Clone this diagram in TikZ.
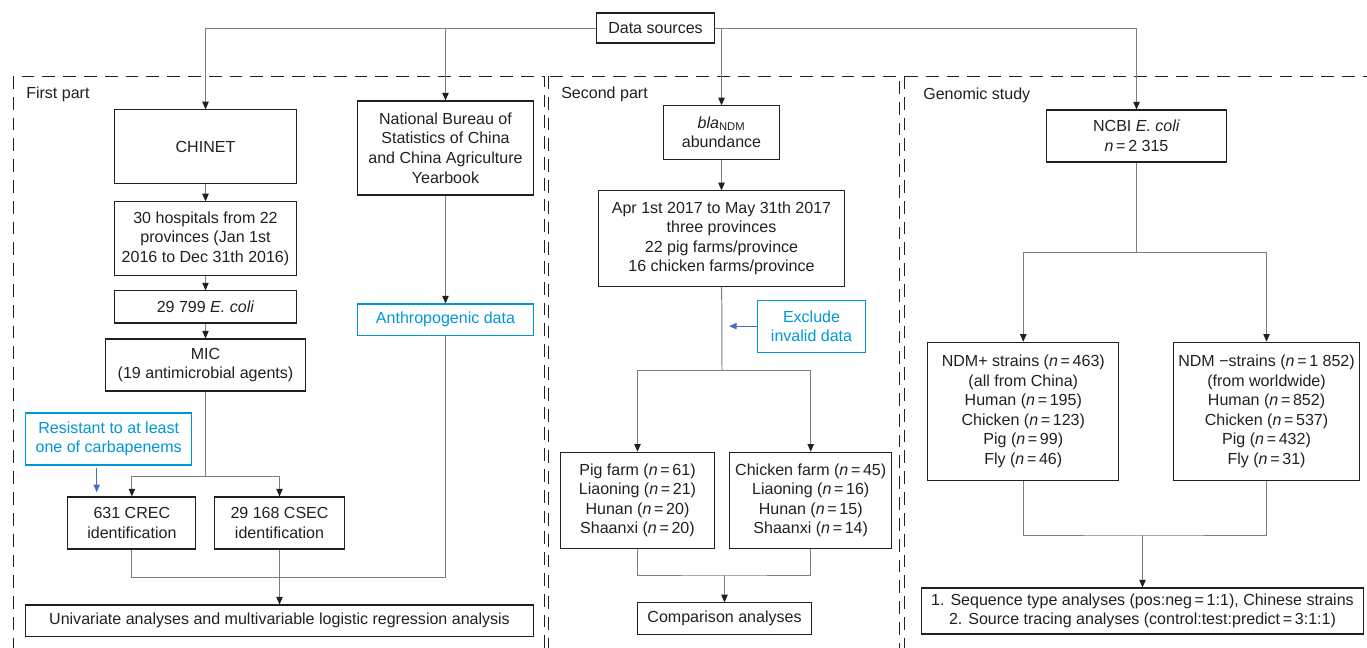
\documentclass[tikz,border=0pt]{standalone}
\usepackage{fontspec}
\setmainfont{Liberation Sans}
\usepackage{tikz}
\usetikzlibrary{positioning, arrows.meta}

\definecolor{inkgrey}{RGB}{35,31,32}
\definecolor{linegrey}{RGB}{125,125,125}
\definecolor{noteblue}{RGB}{0,150,214}
\definecolor{arrowblue}{RGB}{70,110,190}
\newcommand{\nis}{\textit{n}\,=\,}

\tikzset{
  box/.style={draw=inkgrey, line width=0.8pt, align=center, inner sep=0pt, text=inkgrey,
    font=\fontsize{11.4}{13.9}\selectfont},
  notebox/.style={box, draw=noteblue, text=noteblue},
  part/.style={draw=inkgrey, line width=0.7pt, dash pattern=on 3.2mm off 2mm},
  partlabel/.style={anchor=west, inner sep=0pt, text=inkgrey, font=\fontsize{11.4}{13.9}\selectfont},
  link/.style={draw=linegrey, line width=0.7pt},
  flow/.style={link, -{Triangle[length=1.9mm,width=1.6mm,color=inkgrey]}},
  noteflow/.style={draw=arrowblue, line width=0.7pt, -{Triangle[length=1.9mm,width=1.6mm]}}
}

\begin{document}
\begin{tikzpicture}
	[x=0.025cm, y=-0.025cm, on grid, node distance=2cm]
   \useasboundingbox (0,0) rectangle (1367,648);
   % the three parts
   \draw[part] (13,76) rectangle (544,700);
   \draw[part] (548,76) rectangle (899,700);
   \draw[part] (904,76) rectangle (1400,700);
   \node[partlabel] (lab_1) at (26,94) {First part};
   \node[partlabel] (lab_2) at (561,94) {Second part};
   \node[partlabel] (lab_3) at (923,95) {Genomic study};

   \node[box, minimum width=2.93cm, minimum height=0.75cm] (src) at (655.5,28) {Data sources};

   % first part
   \node[box, minimum width=4.53cm, minimum height=1.83cm] (chinet) at (205.5,146.5) {CHINET};
   \node[box, minimum width=4.53cm, minimum height=1.83cm] (hosp) [below=2.3cm of chinet]
      {30 hospitals from 22\\provinces (Jan 1st\\2016 to Dec 31th 2016)};
   \node[box, minimum width=4.53cm, minimum height=0.8cm] (ecoli) [below=1.71cm of hosp] {29 799 \textit{E. coli}};
   \node[box, minimum width=4.98cm, minimum height=1.3cm] (mic) [below=1.45cm of ecoli] {MIC\\(19 antimicrobial agents)};
   \node[box, minimum width=3.2cm, minimum height=1.3cm] (crec) [below left=3.95cm and 1.84cm of mic] {631 CREC\\identification};
   \node[box, minimum width=3.23cm, minimum height=1.3cm] (csec) [right=3.69cm of crec] {29 168 CSEC\\identification};
   \node[notebox, minimum width=4.15cm, minimum height=1.3cm] (resist) [above left=2.1cm and 0.58cm of crec]
      {Resistant to at least\\one of carbapenems};
   \node[box, minimum width=12.68cm, minimum height=0.78cm] (uni) [below=2.44cm of csec]
      {Univariate analyses and multivariable logistic regression analysis};
   \node[box, minimum width=4.38cm, minimum height=2.35cm] (nbs) at (445.5,148)
      {National Bureau of\\Statistics of China\\and China Agriculture\\Yearbook};
   \node[notebox, minimum width=4.38cm, minimum height=0.78cm] (anthro) [below=4.29cm of nbs] {Anthropogenic data};

   % second part
   \node[box, minimum width=2.88cm, minimum height=1.33cm] (bla) at (721.5,132.5) {\textit{bla}\textsubscript{NDM}\\abundance};
   \node[box, minimum width=6.15cm, minimum height=2.38cm] (apr) [below=2.65cm of bla]
      {Apr 1st 2017 to May 31th 2017\\three provinces\\22 pig farms/province\\16 chicken farms/province};
   \node[notebox, minimum width=2.7cm, minimum height=1.3cm] (excl) [below right=2.19cm and 2.25cm of apr] {Exclude\\invalid data};
   \node[box, minimum width=3.85cm, minimum height=2.4cm] (pig) [below left=6.54cm and 2.1cm of apr]
      {Pig farm (\nis61)\\Liaoning (\nis21)\\Hunan (\nis20)\\Shaanxi (\nis20)};
   \node[box, minimum width=4.05cm, minimum height=2.4cm] (chick) [right=4.33cm of pig]
      {Chicken farm (\nis45)\\Liaoning (\nis16)\\Hunan (\nis15)\\Shaanxi (\nis14)};
   \node[box, minimum width=4.33cm, minimum height=0.78cm] (comp) at (724.5,618.5) {Comparison analyses};

   % genomic study
   \node[box, minimum width=4.48cm, minimum height=1.3cm] (ncbi) at (1136.5,136) {NCBI \textit{E. coli}\\\nis2 315};
   \node[box, minimum width=4.78cm, minimum height=3.45cm] (ndmp) [below left=6.88cm and 2.83cm of ncbi]
      {NDM+ strains (\nis463)\\(all from China)\\Human (\nis195)\\Chicken (\nis123)\\Pig (\nis99)\\Fly (\nis46)};
   \node[box, minimum width=4.63cm, minimum height=3.45cm] (ndmn) [right=6.08cm of ndmp]
      {NDM −strains (\nis1 852)\\(from worldwide)\\Human (\nis852)\\Chicken (\nis537)\\Pig (\nis432)\\Fly (\nis31)};
   \node[box, minimum width=11.03cm, minimum height=1.15cm] (final) at (1142.5,611)
      {1. Sequence type analyses (pos:neg\,=\,1:1), Chinese strains\\2. Source tracing analyses (control:test:predict\,=\,3:1:1)};

   % split and join points
   \coordinate (micsplit) at (205.5,476);
   \coordinate (leftjoin) at (445.5,577);
   \coordinate (aprsplit) at (722,370);
   \coordinate (farmjoin) at (724.5,575);
   \coordinate (ncbisplit) at (1136.5,252);
   \coordinate (ndmjoin) at (1142.5,535);

   \draw[flow] (src) -| (chinet);
   \draw[flow] (src) -| (nbs);
   \draw[flow] (src) -| (bla);
   \draw[flow] (src) -| (ncbi);
   \path[flow]
    (chinet) edge (hosp)
    (hosp) edge (ecoli)
    (ecoli) edge (mic)
    (nbs) edge (anthro)
    (bla) edge (apr);

   \draw[link] (mic) -- (micsplit);
   \draw[flow] (micsplit) -| (crec);
   \draw[flow] (micsplit) -| (csec);
   \draw[noteflow, shorten <=1.5pt, shorten >=3pt] ([xshift=-0.3cm]resist.south) -- ([xshift=-0.3cm]resist.south |- crec.north);
   \draw[link] (crec) |- (leftjoin) -- (anthro);
   \draw[flow] (csec) -- (csec |- uni.north);

   \draw[link] (apr) -- (aprsplit);
   \draw[flow] (aprsplit) -| (pig);
   \draw[flow] (aprsplit) -| (chick);
   \draw[noteflow, shorten >=5pt] (excl) -- (excl -| aprsplit);
   \draw[link] (pig) |- (farmjoin) -| (chick);
   \draw[flow] (farmjoin) -- (comp);

   \draw[link] (ncbi) -- (ncbisplit);
   \draw[flow] (ncbisplit) -| (ndmp);
   \draw[flow] (ncbisplit) -| (ndmn);
   \draw[link] (ndmp) |- (ndmjoin) -| (ndmn);
   \draw[flow] (ndmjoin) -- (final);
\end{tikzpicture}
\end{document}
